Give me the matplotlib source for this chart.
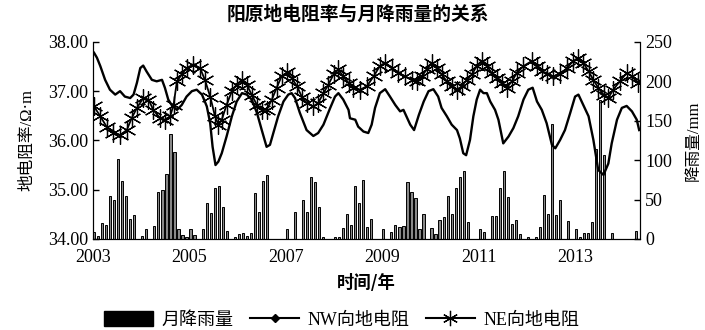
import numpy as np
import matplotlib
matplotlib.use('Agg')
import matplotlib.pyplot as plt
from matplotlib.patches import Patch
from matplotlib.lines import Line2D

plt.rcParams['font.family'] = ['Liberation Serif', 'Noto Sans CJK SC']

# monthly rainfall (mm), Jan..Dec
rain_2003 = [9, 4, 20, 18, 55, 50, 102, 74, 55, 25, 30, 0]
rain_2004 = [4, 13, 0, 16, 59, 62, 83, 133, 110, 12, 5, 3]
rain_2005 = [12, 5, 0, 12, 46, 33, 64, 67, 40, 10, 0, 2]
rain_2006 = [6, 7, 4, 7, 58, 34, 74, 81, 0, 0, 0, 0]
rain_2007 = [12, 0, 34, 0, 49, 34, 79, 72, 41, 2, 0, 0]
rain_2008 = [2, 2, 14, 31, 18, 67, 45, 75, 15, 25, 0, 0]
rain_2009 = [12, 0, 9, 18, 15, 16, 72, 60, 52, 12, 32, 0]
rain_2010 = [14, 6, 24, 28, 55, 32, 64, 79, 86, 22, 0, 0]
rain_2011 = [12, 9, 0, 29, 29, 64, 86, 53, 19, 24, 6, 0]
rain_2012 = [2, 0, 3, 15, 56, 32, 146, 30, 50, 0, 23, 0]
rain_2013 = [12, 2, 7, 8, 22, 114, 176, 106, 0, 7, 0, 0]
rain_2014 = [0, 0, 0, 10]

# NW resistivity (Ohm m)
nw_t = [2003.02, 2003.08, 2003.15, 2003.25, 2003.35, 2003.46, 2003.56, 2003.66, 2003.77, 2003.84,
        2003.91, 2003.98, 2004.04, 2004.11, 2004.22, 2004.32, 2004.43, 2004.49, 2004.56, 2004.63,
        2004.74, 2004.84, 2004.94, 2005.05, 2005.15, 2005.26, 2005.36, 2005.43, 2005.48, 2005.54,
        2005.60, 2005.67, 2005.77, 2005.88, 2005.98, 2006.09, 2006.19, 2006.29, 2006.40, 2006.50,
        2006.60, 2006.67, 2006.74, 2006.84, 2006.95, 2007.05, 2007.12, 2007.19, 2007.29, 2007.43,
        2007.57, 2007.67, 2007.78, 2007.92, 2008.02, 2008.09, 2008.19, 2008.30, 2008.33, 2008.44,
        2008.50, 2008.61, 2008.71, 2008.78, 2008.85, 2008.95, 2009.06, 2009.16, 2009.27, 2009.37,
        2009.44, 2009.51, 2009.58, 2009.66, 2009.76, 2009.86, 2009.96, 2010.06, 2010.16, 2010.23,
        2010.34, 2010.44, 2010.55, 2010.61, 2010.68, 2010.74, 2010.82, 2010.89, 2010.96, 2011.03,
        2011.10, 2011.17, 2011.24, 2011.34, 2011.41, 2011.51, 2011.62, 2011.72, 2011.82, 2011.93,
        2012.03, 2012.12, 2012.21, 2012.31, 2012.41, 2012.52, 2012.59, 2012.69, 2012.79, 2012.90,
        2013.00, 2013.07, 2013.17, 2013.28, 2013.38, 2013.48, 2013.59, 2013.69, 2013.76, 2013.87,
        2013.97, 2014.07, 2014.18, 2014.28, 2014.33]
nw_v = [37.78, 37.68, 37.51, 37.23, 37.03, 36.93, 37.00, 36.89, 36.86, 36.93,
        37.17, 37.47, 37.52, 37.40, 37.23, 37.20, 37.23, 37.07, 36.83, 36.72,
        36.62, 36.72, 36.89, 37.00, 37.03, 36.93, 36.69, 36.35, 35.87, 35.50,
        35.57, 35.74, 36.08, 36.49, 36.79, 36.96, 36.93, 36.83, 36.56, 36.21,
        35.87, 35.91, 36.15, 36.49, 36.79, 36.93, 36.96, 36.86, 36.56, 36.21,
        36.09, 36.15, 36.32, 36.66, 36.89, 36.96, 36.83, 36.62, 36.45, 36.42,
        36.28, 36.18, 36.15, 36.32, 36.66, 36.96, 37.04, 36.89, 36.72, 36.59,
        36.62, 36.47, 36.32, 36.21, 36.52, 36.79, 37.00, 37.04, 36.89, 36.66,
        36.49, 36.32, 36.21, 36.04, 35.74, 35.70, 36.01, 36.49, 36.83, 37.03,
        36.96, 36.96, 36.79, 36.62, 36.42, 35.94, 36.08, 36.25, 36.49, 36.83,
        37.03, 37.07, 36.79, 36.62, 36.35, 35.91, 35.84, 36.01, 36.21, 36.56,
        36.89, 36.93, 36.72, 36.49, 36.01, 35.40, 35.30, 35.53, 35.94, 36.42,
        36.66, 36.70, 36.59, 36.42, 36.21]

# NE resistivity (Ohm m)
ne_t = [2003.02, 2003.15, 2003.28, 2003.42, 2003.56, 2003.70, 2003.80, 2003.91, 2004.04, 2004.15,
        2004.25, 2004.39, 2004.49, 2004.60, 2004.67, 2004.74, 2004.84, 2004.94, 2005.08, 2005.22,
        2005.32, 2005.43, 2005.53, 2005.60, 2005.67, 2005.77, 2005.88, 2005.98, 2006.09, 2006.19,
        2006.29, 2006.40, 2006.50, 2006.60, 2006.71, 2006.81, 2006.91, 2007.02, 2007.12, 2007.23,
        2007.33, 2007.43, 2007.57, 2007.67, 2007.78, 2007.88, 2007.99, 2008.09, 2008.19, 2008.30,
        2008.40, 2008.54, 2008.68, 2008.82, 2008.95, 2009.06, 2009.20, 2009.33, 2009.47, 2009.61,
        2009.72, 2009.82, 2009.92, 2010.03, 2010.13, 2010.23, 2010.34, 2010.44, 2010.55, 2010.65,
        2010.75, 2010.86, 2010.96, 2011.06, 2011.17, 2011.27, 2011.38, 2011.48, 2011.58, 2011.69,
        2011.79, 2011.93, 2012.10, 2012.21, 2012.31, 2012.41, 2012.55, 2012.69, 2012.83, 2012.96,
        2013.07, 2013.17, 2013.28, 2013.38, 2013.48, 2013.59, 2013.69, 2013.79, 2013.93, 2014.07,
        2014.18, 2014.31]
ne_v = [36.69, 36.49, 36.28, 36.15, 36.11, 36.21, 36.45, 36.66, 36.86, 36.83,
        36.62, 36.45, 36.42, 36.49, 36.72, 37.20, 37.34, 37.47, 37.54, 37.47,
        37.23, 36.89, 36.49, 36.32, 36.42, 36.72, 37.00, 37.13, 37.23, 37.13,
        36.93, 36.72, 36.62, 36.62, 36.83, 37.07, 37.30, 37.38, 37.27, 37.10,
        36.89, 36.76, 36.69, 36.76, 36.96, 37.13, 37.34, 37.44, 37.30, 37.17,
        37.07, 37.03, 37.10, 37.30, 37.51, 37.58, 37.47, 37.37, 37.30, 37.23,
        37.20, 37.30, 37.44, 37.58, 37.47, 37.34, 37.20, 37.10, 37.03, 37.10,
        37.23, 37.34, 37.51, 37.61, 37.51, 37.37, 37.27, 37.17, 37.07, 37.20,
        37.37, 37.51, 37.61, 37.51, 37.40, 37.34, 37.30, 37.34, 37.47, 37.61,
        37.68, 37.58, 37.40, 37.23, 37.07, 36.93, 36.86, 37.03, 37.20, 37.37,
        37.30, 37.17]

rain = (rain_2003 + rain_2004 + rain_2005 + rain_2006 + rain_2007 + rain_2008 +
        rain_2009 + rain_2010 + rain_2011 + rain_2012 + rain_2013 + rain_2014)
months = 2003 + np.arange(len(rain)) / 12.0

cjk = ['Noto Sans CJK SC', 'DejaVu Sans']
mixed = ['Liberation Serif', 'Noto Sans CJK SC']

fig = plt.figure(figsize=(7.05, 3.3), dpi=100)
ax1 = fig.add_axes([0.132, 0.276, 0.776, 0.597])
ax2 = ax1.twinx()

ax2.bar(months, rain, width=0.045, align='edge', facecolor='#888888',
        edgecolor='black', linewidth=0.7)
ax2.set_ylim(0, 250)
ax2.set_yticks([0, 50, 100, 150, 200, 250])

ax1.set_zorder(ax2.get_zorder() + 1)
ax1.patch.set_visible(False)
ax1.plot(nw_t, nw_v, color='black', lw=1.7)
ax1.plot(ne_t, ne_v, color='black', lw=1.3, marker=(6, 2, 0), markersize=13,
         markeredgewidth=0.9)
ax1.set_ylim(34, 38)
ax1.set_xlim(2003, 2014.35)
ax1.set_yticks([34, 35, 36, 37, 38])
ax1.set_yticklabels(['34.00', '35.00', '36.00', '37.00', '38.00'])
ax1.set_xticks([2003, 2005, 2007, 2009, 2011, 2013])
ax1.set_xticklabels(['2003', '2005', '2007', '2009', '2011', '2013'])

for ax in (ax1, ax2):
    ax.spines['top'].set_visible(False)
    ax.tick_params(direction='in', labelsize=13, length=4, width=1)
ax1.tick_params(axis='x', length=0, pad=7)

ax1.set_ylabel('地电阻率/Ω·m', family=mixed, fontsize=12, labelpad=9)
ax2.set_ylabel('降雨量/mm', family=mixed, fontsize=12, labelpad=10)
ax1.set_xlabel('时间/年', family=cjk, fontsize=12.5, fontweight='bold', labelpad=6)
fig.suptitle('阳原地电阻率与月降雨量的关系', family=cjk, fontsize=13.5,
             fontweight='bold', x=0.508, y=0.985)

handles = [Patch(facecolor='black', edgecolor='black'),
           Line2D([], [], color='black', lw=1.5, marker='D', markersize=4),
           Line2D([], [], color='black', lw=1.5, marker=(6, 2, 0), markersize=11,
                  markeredgewidth=0.9)]
fig.legend(handles, ['月降雨量', 'NW向地电阻', 'NE向地电阻'], loc='lower center',
           ncol=3, frameon=False, prop={'family': mixed, 'size': 13},
           bbox_to_anchor=(0.485, -0.045), handlelength=2.7, handleheight=0.9,
           columnspacing=0.9, handletextpad=0.5)

fig.savefig('out.png', dpi=100)
